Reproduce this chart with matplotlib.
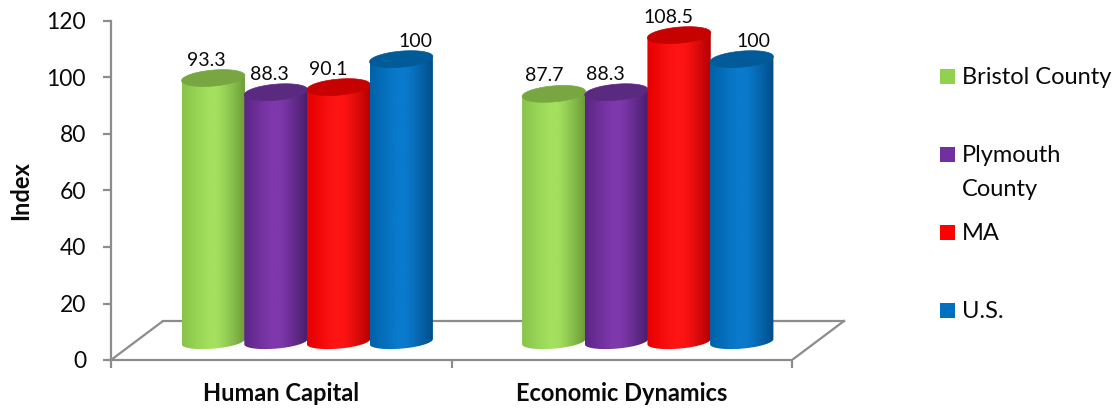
import numpy as np
import matplotlib
matplotlib.use("Agg")
import matplotlib.pyplot as plt
from matplotlib.patches import Polygon, Rectangle
from matplotlib.colors import to_rgb

# ---------------- data ----------------
categories = ["Human Capital", "Economic Dynamics"]
series_names = ["Bristol County", "Plymouth\nCounty", "MA", "U.S."]
bristol = [93.3, 87.7]
plymouth = [88.3, 88.3]
ma = [90.1, 108.5]
us = [100, 100]
yticks = [0, 20, 40, 60, 80, 100, 120]
y_label = "Index"

series_values = [bristol, plymouth, ma, us]

# ---------------- styles ----------------
legend_colors = ["#92D050", "#7030A0", "#FF0000", "#0070C0"]
# (left edge, highlight, right edge, top cap)
shades = [
    ("#88C44A", "#A4E05E", "#6A9A36", "#78A742"),
    ("#5C2686", "#7E38AC", "#471C68", "#5A2A80"),
    ("#E60000", "#FF1414", "#B20000", "#C70000"),
    ("#0062A8", "#0A7ACC", "#004C86", "#005B98"),
]
label_dx_px = [[-7, -10], [-7, -11], [-10, -11], [14, 12]]

W, H = 1116, 408
DPI = 100
FONT = "Lato"
GRAY = "#8C8C8C"
TXT = "#0A0A0A"

plt.rcParams["font.family"] = [FONT, "DejaVu Sans"]

fig = plt.figure(figsize=(W / DPI, H / DPI), dpi=DPI)
ax_left, ax_bottom, ax_right, ax_top = 111, 360, 860, 21
ax = fig.add_axes([ax_left / W, (H - ax_bottom) / H,
                   (ax_right - ax_left) / W, (ax_bottom - ax_top) / H])

px_per_cat = 340.5
px_per_val = (ax_bottom - ax_top) / 120.0
ax.set_xlim(0, (ax_right - ax_left) / px_per_cat)
ax.set_ylim(0, 120)

# 3-D depth offsets (data units)
ddx = 52 / px_per_cat
ddy = 39 / px_per_val

# floor
ax.plot([0, ddx], [0, ddy], color=GRAY, lw=1.6, zorder=1, solid_capstyle="butt")
ax.plot([ddx, 2 + ddx], [ddy, ddy], color=GRAY, lw=1.6, zorder=1)
ax.plot([2, 2 + ddx], [0, ddy], color=GRAY, lw=1.6, zorder=1)

# cylinders
spacing = 0.184
a = 0.093                    # radius in x data units
b_top = 8.0 / px_per_val     # top ellipse half-height in value units
b_bot = 7.0 / px_per_val     # bottom ellipse half-height
k = 2.6 / px_per_val         # perspective tilt
base = ddy / 2 - 0.4
t_low = np.linspace(np.pi, 2 * np.pi, 80)
t_all = np.linspace(0, 2 * np.pi, 160)


def gradient(cols, n=200):
    l, h, r = (np.array(to_rgb(c)) for c in cols[:3])
    xs = np.linspace(0, 1, n)
    out = np.zeros((n, 3))
    for i, x in enumerate(xs):
        if x < 0.42:
            f = x / 0.42
            out[i] = l + (h - l) * f
        elif x < 0.55:
            out[i] = h
        else:
            f = (x - 0.55) / 0.45
            out[i] = h + (r - h) * f ** 1.2
    return out[np.newaxis, :, :]


for ci in range(len(categories)):
    for j, vals in enumerate(series_values):
        v = vals[ci]
        cx = ci + 0.5 + ddx / 2 + (j - 1.5) * spacing
        top = base + v
        z = 2 + ci + j * 0.1
        xs_low = cx + a * np.cos(t_low)
        ys_low = base + b_bot * np.sin(t_low) + k * np.cos(t_low)
        body = np.column_stack([
            np.concatenate([xs_low, [cx + a, cx - a]]),
            np.concatenate([ys_low, [top + k, top - k]]),
        ])
        poly = Polygon(body, closed=True, facecolor="none", edgecolor="none")
        ax.add_patch(poly)
        im = ax.imshow(gradient(shades[j]),
                       extent=[cx - a, cx + a, base - b_bot - k - 1, top + k + 1],
                       aspect="auto", interpolation="bilinear", zorder=z)
        im.set_clip_path(poly)
        cap = np.column_stack([
            cx + a * np.cos(t_all),
            top + b_top * np.sin(t_all) + k * np.cos(t_all),
        ])
        ax.add_patch(Polygon(cap, closed=True, facecolor=shades[j][3],
                             edgecolor=shades[j][3], lw=0.5, zorder=z + 0.01))
        ax.annotate(f"{v:g}", xy=(cx, top), xytext=(label_dx_px[j][ci], 18),
                    textcoords="offset pixels", ha="center", va="center",
                    fontsize=14, color=TXT, zorder=10)

# axes styling
for s in ["top", "right"]:
    ax.spines[s].set_visible(False)
ax.spines["left"].set_color(GRAY)
ax.spines["left"].set_linewidth(1.6)
ax.spines["bottom"].set_color(GRAY)
ax.spines["bottom"].set_linewidth(1.6)
ax.spines["bottom"].set_bounds(0, 2)

ax.set_yticks(yticks)
ax.set_yticklabels([str(t) for t in yticks])
ax.tick_params(axis="y", direction="out", length=6, width=1.6, color=GRAY,
               labelsize=16.5, pad=12, labelcolor=TXT)
ax.set_xticks([0.5, 1.5])
ax.set_xticklabels(categories, fontweight="bold", fontsize=17, color=TXT)
ax.tick_params(axis="x", which="major", length=0, pad=16)
ax.set_xticks([0, 1, 2], minor=True)
ax.tick_params(axis="x", which="minor", direction="out", length=6, width=1.6, color=GRAY)

ax.set_ylabel(y_label, fontweight="bold", fontsize=17, color=TXT, labelpad=10)

# legend (manual, in figure pixels)
leg_y = [76, 155, 232, 310]
line_px = 33
for j, name in enumerate(series_names):
    yc = leg_y[j]
    fig.add_artist(Rectangle((940 / W, 1 - (yc + 7.5) / H), 15 / W, 15 / H,
                             transform=fig.transFigure, facecolor=legend_colors[j],
                             edgecolor="none"))
    for li, line in enumerate(name.split("\n")):
        fig.text(962 / W, 1 - (yc + 7.5 + li * line_px) / H, line, fontsize=17,
                 color=TXT, ha="left", va="baseline")

fig.savefig("out.png", dpi=DPI)
